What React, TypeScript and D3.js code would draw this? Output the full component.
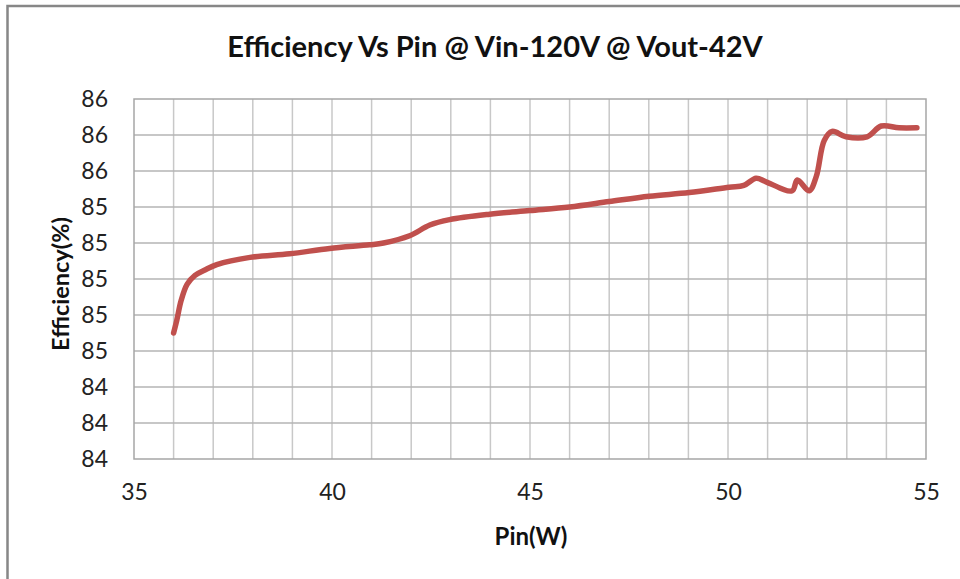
import React, { useEffect, useRef } from "react";
import * as d3 from "d3";

// values (Pin in W, efficiency in %)
const pinW = [
  36.0, 36.08, 36.19, 36.34, 36.54, 36.79, 37.09, 37.93, 38.93, 39.94, 40.95, 41.3,
  41.96, 42.47, 42.97, 43.98, 44.99, 46.0, 47.0, 48.01, 49.02, 50.03, 50.4, 50.71,
  50.96, 51.62, 51.75, 52.05, 52.23, 52.43, 52.63, 52.98, 53.51, 53.87, 54.32, 54.77,
];
const efficiency = [
  84.7, 84.77, 84.88, 84.97, 85.02, 85.05, 85.08, 85.12, 85.14, 85.17, 85.19, 85.2,
  85.24, 85.3, 85.33, 85.36, 85.38, 85.4, 85.43, 85.46, 85.48, 85.51, 85.52, 85.56,
  85.54, 85.49, 85.55, 85.49, 85.57, 85.77, 85.82, 85.79, 85.79, 85.85, 85.84, 85.84,
];
const xTicks = [35, 40, 45, 50, 55];
const yTicks = [84.0, 84.2, 84.4, 84.6, 84.8, 85.0, 85.2, 85.4, 85.6, 85.8, 86.0];

const title = "Efficiency Vs Pin @ Vin-120V @ Vout-42V";

const EfficiencyChart = () => {
  const ref = useRef<SVGSVGElement | null>(null);

  useEffect(() => {
    if (!ref.current) return;
    const svg = d3.select(ref.current);
    svg.selectAll("*").remove();

    const width = 960;
    const height = 579;
    const plot = { left: 134, right: 926, top: 99, bottom: 459 };
    const font = "Lato, 'Open Sans', sans-serif";

    const x = d3.scaleLinear().domain([35, 55]).range([plot.left, plot.right]);
    const y = d3.scaleLinear().domain([84, 86]).range([plot.bottom, plot.top]);

    svg.attr("width", width).attr("height", height);

    // outer chart frame (only top and left visible)
    svg
      .append("rect")
      .attr("x", 7.5)
      .attr("y", 6)
      .attr("width", 1000)
      .attr("height", 700)
      .attr("fill", "white")
      .attr("stroke", "#878787")
      .attr("stroke-width", 2.5);

    // grid
    const grid = svg.append("g");
    grid
      .selectAll("line.v")
      .data(d3.range(36, 55))
      .join("line")
      .attr("class", "v")
      .attr("x1", (d) => x(d))
      .attr("x2", (d) => x(d))
      .attr("y1", plot.top)
      .attr("y2", plot.bottom)
      .attr("stroke", "#c8c8c8")
      .attr("stroke-width", 1.5);
    grid
      .selectAll("line.h")
      .data(yTicks.slice(1, -1))
      .join("line")
      .attr("class", "h")
      .attr("x1", plot.left)
      .attr("x2", plot.right)
      .attr("y1", (d) => y(d))
      .attr("y2", (d) => y(d))
      .attr("stroke", "#b4b4b4")
      .attr("stroke-width", 1.5);

    svg
      .append("rect")
      .attr("x", plot.left)
      .attr("y", plot.top)
      .attr("width", plot.right - plot.left)
      .attr("height", plot.bottom - plot.top)
      .attr("fill", "none")
      .attr("stroke", "#a6a6a6")
      .attr("stroke-width", 1.5);

    // tick labels via d3 axes, lines removed
    const xAxis = svg
      .append("g")
      .attr("transform", `translate(0,${plot.bottom})`)
      .call(d3.axisBottom(x).tickValues(xTicks).tickSize(0).tickPadding(25));
    xAxis.select(".domain").remove();
    xAxis
      .selectAll("text")
      .attr("font-family", font)
      .attr("font-size", 23)
      .attr("fill", "#222");

    const yAxis = svg
      .append("g")
      .attr("transform", `translate(${plot.left},0)`)
      .call(
        d3
          .axisLeft(y)
          .tickValues(yTicks)
          .tickFormat(d3.format(".0f"))
          .tickSize(0)
          .tickPadding(26)
      );
    yAxis.select(".domain").remove();
    yAxis
      .selectAll("text")
      .attr("font-family", font)
      .attr("font-size", 23)
      .attr("fill", "#222");

    // the curve
    const line = d3
      .line<number>()
      .x((d, i) => x(pinW[i]))
      .y((d) => y(d))
      .curve(d3.curveCatmullRom.alpha(0.5));

    svg
      .append("path")
      .datum(efficiency)
      .attr("d", line)
      .attr("fill", "none")
      .attr("stroke", "#c0504d")
      .attr("stroke-width", 5.5)
      .attr("stroke-linecap", "round")
      .attr("stroke-linejoin", "round");

    // titles
    svg
      .append("text")
      .attr("x", 495)
      .attr("y", 57)
      .attr("text-anchor", "middle")
      .attr("font-family", font)
      .attr("font-weight", "bold")
      .attr("font-size", 29)
      .attr("fill", "#111")
      .text(title);

    svg
      .append("text")
      .attr("x", 531)
      .attr("y", 545)
      .attr("text-anchor", "middle")
      .attr("font-family", font)
      .attr("font-weight", "bold")
      .attr("font-size", 24)
      .attr("fill", "#111")
      .text("Pin(W)");

    svg
      .append("text")
      .attr("transform", `translate(69,284) rotate(-90)`)
      .attr("text-anchor", "middle")
      .attr("font-family", font)
      .attr("font-weight", "bold")
      .attr("font-size", 23.5)
      .attr("fill", "#111")
      .text("Efficiency(%)");
  }, []);

  return (
    <svg
      ref={ref}
      style={{ position: "absolute", left: 0, top: 0, display: "block" }}
    ></svg>
  );
};

export default function App() {
  return <EfficiencyChart />;
}
